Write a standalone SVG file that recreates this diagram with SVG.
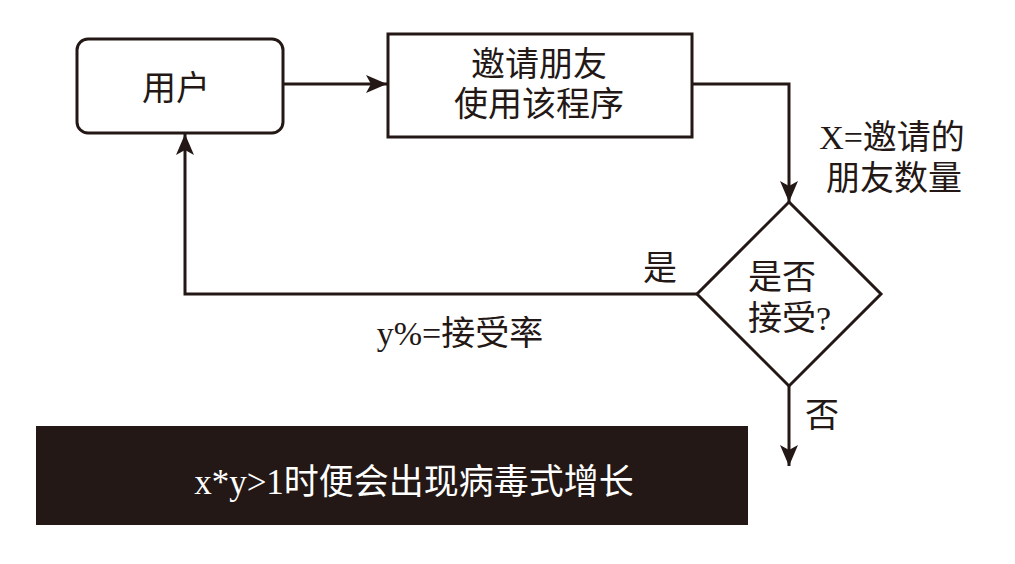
<svg xmlns="http://www.w3.org/2000/svg" width="1015" height="564" viewBox="0 0 1015 564">
<style>
.shape{fill:#ffffff;stroke:#231815;stroke-width:3}
.line{fill:none;stroke:#231815;stroke-width:3}
.t{font-family:"Liberation Serif","Noto Sans CJK SC",serif;font-size:34px;fill:#231815;dominant-baseline:central}
.c{text-anchor:middle}
.w{fill:#ffffff;font-size:35px}
</style>
<defs>
<marker id="arr" markerUnits="userSpaceOnUse" markerWidth="24" markerHeight="20" refX="21" refY="9" orient="auto" viewBox="0 0 24 20">
<path d="M0,0 L21,9 L0,18 L5,9 z" fill="#231815"/>
</marker>
</defs>
<rect width="1015" height="564" fill="#ffffff"/>
<g id="connectors">
<line class="line" x1="283" y1="84" x2="387" y2="84" marker-end="url(#arr)"/>
<polyline class="line" points="692,84 789,84 789,202" marker-end="url(#arr)"/>
<polyline class="line" points="697,294 185,294 185,134" marker-end="url(#arr)"/>
<line class="line" x1="789" y1="386" x2="789" y2="466" marker-end="url(#arr)"/>
</g>
<g id="node-user">
<rect class="shape" x="77" y="39" width="206" height="94" rx="11"/>
<text class="t c" x="176" y="88">用户</text>
</g>
<g id="node-invite">
<rect class="shape" x="388" y="34" width="304" height="103"/>
<text class="t c" x="539" y="64">邀请朋友</text>
<text class="t c" x="539" y="104">使用该程序</text>
</g>
<g id="node-decision">
<polygon class="shape" points="789,202 881,294 789,386 697,294"/>
<text class="t" x="748" y="277">是否</text>
<text class="t" x="748" y="318">接受?</text>
</g>
<g id="labels">
<text class="t c" x="892" y="137">X=邀请的</text>
<text class="t c" x="894" y="178">朋友数量</text>
<text class="t c" x="660" y="268">是</text>
<text class="t c" x="460" y="333">y%=接受率</text>
<text class="t c" x="822" y="415">否</text>
</g>
<g id="node-note">
<rect x="36" y="426" width="712" height="99" fill="#231815"/>
<text class="t c w" x="414" y="482">x*y&gt;1时便会出现病毒式增长</text>
</g>
</svg>
